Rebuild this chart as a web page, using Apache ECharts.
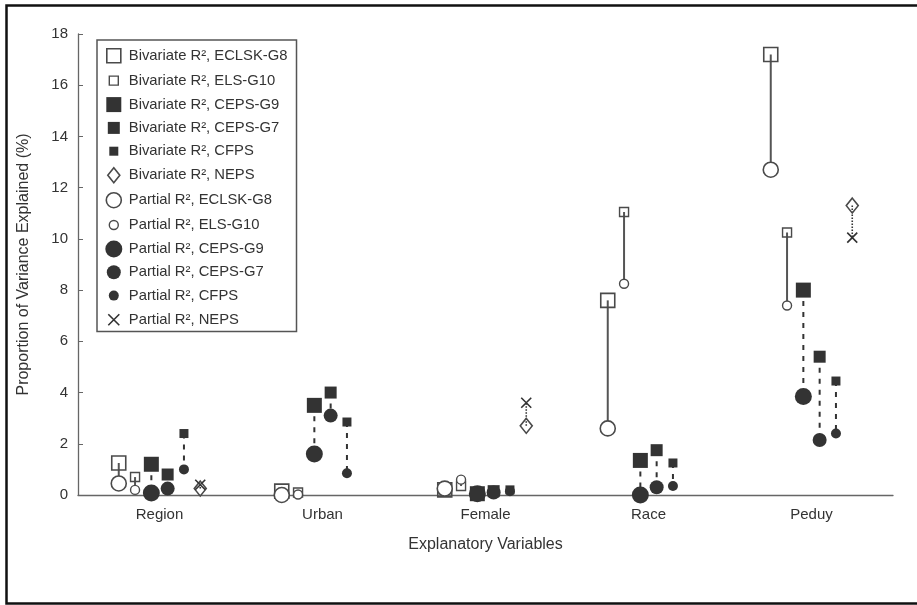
<!DOCTYPE html>
<html><head><meta charset="utf-8">
<script src="https://cdn.jsdelivr.net/npm/echarts@6.0.0/dist/echarts.min.js"></script>
<style>html,body{margin:0;padding:0;background:#fff}#c{width:917px;height:605px}</style>
</head><body><div id="c"></div>
<script>
// ---- data ----
const categories = ['Region', 'Urban', 'Female', 'Race', 'Peduy'];
const datasets = ['ECLSK-G8', 'ELS-G10', 'CEPS-G9', 'CEPS-G7', 'CFPS', 'NEPS'];
const yTicks = [0, 2, 4, 6, 8, 10, 12, 14, 16, 18];
// Bivariate R² (%) per category
const bivECLSK = [1.25, 0.15, 0.2, 7.6, 17.2];
const bivELS   = [0.7, 0.1, 0.35, 11.05, 10.25];
const bivCEPS9 = [1.2, 3.5, 0.05, 1.35, 8.0];
const bivCEPS7 = [0.8, 4.0, 0.15, 1.75, 5.4];
const bivCFPS  = [2.4, 2.85, 0.2, 1.25, 4.45];
const bivNEPS  = [0.25, null, 2.7, null, 11.3];
// Partial R² (%) per category
const parECLSK = [0.45, 0.0, 0.25, 2.6, 12.7];
const parELS   = [0.2, 0.02, 0.6, 8.25, 7.4];
const parCEPS9 = [0.08, 1.6, 0.05, 0.0, 3.85];
const parCEPS7 = [0.25, 3.1, 0.1, 0.3, 2.15];
const parCFPS  = [1.0, 0.85, 0.15, 0.35, 2.4];
const parNEPS  = [0.4, null, 3.6, null, 10.05];

const bivAll = [bivECLSK, bivELS, bivCEPS9, bivCEPS7, bivCFPS, bivNEPS];
const parAll = [parECLSK, parELS, parCEPS9, parCEPS7, parCFPS, parNEPS];

// ---- styles ----
const FONT = "'Liberation Sans', Arial, sans-serif";
const TXT = '#333';
const DARK = '#333';
const OPEN = '#4a4a4a';
const offsets = [-0.25, -0.15, -0.05, 0.05, 0.15, 0.25];
const NONE = 'rgba(0,0,0,0)';

function sq(s) { const a = 10 - s / 2, b = 10 + s / 2; return `path://M0,0M20,20M${a},${a}L${b},${a}L${b},${b}L${a},${b}Z`; }
function circ(s) { const r = s / 2; return `path://M0,0M20,20M${10 - r},10A${r},${r},0,1,1,${10 + r},10A${r},${r},0,1,1,${10 - r},10Z`; }
function dia(w, h) { return `path://M0,0M20,20M10,${10 - h / 2}L${10 + w / 2},10L10,${10 + h / 2}L${10 - w / 2},10Z`; }
function xs(s) { const a = 10 - s / 2, b = 10 + s / 2; return `path://M0,0M20,20M${a},${a}L${b},${b}M${b},${a}L${a},${b}`; }
const XMARK = 'path://M0,0L10,10M10,0L0,10';

const bivStyle = [
  { symbol: 'rect', size: 14, icon: sq(14), item: { color: NONE, borderColor: OPEN, borderWidth: 1.6 } },
  { symbol: 'rect', size: 9, icon: sq(9), item: { color: NONE, borderColor: OPEN, borderWidth: 1.4 } },
  { symbol: 'rect', size: 15, icon: sq(15), item: { color: DARK, borderColor: DARK, borderWidth: 0 } },
  { symbol: 'rect', size: 12, icon: sq(12), item: { color: DARK, borderColor: DARK, borderWidth: 0 } },
  { symbol: 'rect', size: 9, icon: sq(9), item: { color: DARK, borderColor: DARK, borderWidth: 0 } },
  { symbol: 'diamond', size: [12, 15], icon: dia(12, 15), item: { color: NONE, borderColor: OPEN, borderWidth: 1.6 } }
];
const parStyle = [
  { symbol: 'circle', size: 15, icon: circ(15), item: { color: '#fff', borderColor: OPEN, borderWidth: 1.6 } },
  { symbol: 'circle', size: 9, icon: circ(9), item: { color: '#fff', borderColor: OPEN, borderWidth: 1.4 } },
  { symbol: 'circle', size: 17, icon: circ(17), item: { color: DARK, borderColor: DARK, borderWidth: 0 } },
  { symbol: 'circle', size: 14, icon: circ(14), item: { color: DARK, borderColor: DARK, borderWidth: 0 } },
  { symbol: 'circle', size: 10, icon: circ(10), item: { color: DARK, borderColor: DARK, borderWidth: 0 } },
  { symbol: XMARK, size: 10, icon: xs(11), item: { color: NONE, borderColor: DARK, borderWidth: 1.6 } }
];
const connStyle = [
  { stroke: '#555', lineWidth: 2, lineDash: null },
  { stroke: '#555', lineWidth: 2, lineDash: null },
  { stroke: DARK, lineWidth: 2, lineDash: [5, 6] },
  { stroke: DARK, lineWidth: 2, lineDash: [5, 6] },
  { stroke: DARK, lineWidth: 2, lineDash: [5, 6] },
  { stroke: DARK, lineWidth: 1.6, lineDash: [1.5, 1.5] }
];

const series = [];
const legendData = [];
// connectors
datasets.forEach((d, k) => {
  const data = [];
  categories.forEach((c, i) => {
    if (bivAll[k][i] != null && parAll[k][i] != null) data.push([i + offsets[k], bivAll[k][i], parAll[k][i]]);
  });
  const st = connStyle[k];
  series.push({
    type: 'custom', name: 'conn-' + d, xAxisIndex: 1, z: 1, silent: true,
    encode: { x: 0, y: [1, 2] }, data,
    renderItem(params, api) {
      const s = api.coord([api.value(0), api.value(1)]);
      const e = api.coord([api.value(0), api.value(2)]);
      return { type: 'line', shape: { x1: s[0], y1: s[1], x2: e[0], y2: e[1] },
        style: { stroke: st.stroke, lineWidth: st.lineWidth, lineDash: st.lineDash } };
    }
  });
});
function addScatter(prefix, all, styles) {
  datasets.forEach((d, k) => {
    const name = prefix + ' R², ' + d;
    const data = [];
    categories.forEach((c, i) => { if (all[k][i] != null) data.push([i + offsets[k], all[k][i]]); });
    const st = styles[k];
    series.push({ type: 'scatter', name, xAxisIndex: 1, z: 3, data,
      symbol: st.symbol, symbolSize: st.size, itemStyle: Object.assign({ opacity: 1 }, st.item) });
    legendData.push({ name, icon: st.icon, itemStyle: st.item });
  });
}
addScatter('Bivariate', bivAll, bivStyle);
addScatter('Partial', parAll, parStyle);

const chart = echarts.init(document.getElementById('c'), null, { renderer: 'canvas' });
chart.setOption({
  animation: false,
  backgroundColor: '#fff',
  textStyle: { fontFamily: FONT, color: TXT },
  graphic: [{ type: 'rect', left: 4, top: 3, shape: { width: 930, height: 598 },
    style: { fill: 'none', stroke: '#111', lineWidth: 2.5 }, silent: true, z: -1 }],
  grid: { left: 78, top: 34, right: 24, bottom: 110, containLabel: false, outerBoundsMode: 'none' },
  legend: {
    orient: 'vertical', left: 97, top: 40, padding: [5, 9, 1, 6],
    itemWidth: 20, itemHeight: 20, itemGap: 3.3, itemTextGap: 12,
    borderColor: '#555', borderWidth: 1.5, backgroundColor: '#fff',
    selectedMode: false, data: legendData,
    textStyle: { fontFamily: FONT, fontSize: 14.8, color: TXT }
  },
  xAxis: [
    { type: 'category', data: categories, boundaryGap: true, position: 'bottom',
      name: 'Explanatory Variables', nameLocation: 'middle', nameGap: 42,
      nameTextStyle: { fontFamily: FONT, fontSize: 16, color: TXT },
      axisLine: { lineStyle: { color: '#666', width: 1.3 } },
      axisTick: { alignWithLabel: true, inside: true, length: 5, lineStyle: { color: '#666' } },
      axisLabel: { fontFamily: FONT, fontSize: 15, color: TXT, margin: 12 },
      splitLine: { show: false } },
    { type: 'value', min: -0.5, max: 4.5, show: false, gridIndex: 0 }
  ],
  yAxis: {
    type: 'value', min: yTicks[0], max: yTicks[yTicks.length - 1], interval: 2,
    name: 'Proportion of Variance Explained (%)', nameLocation: 'middle', nameGap: 46,
    nameTextStyle: { fontFamily: FONT, fontSize: 16, color: TXT },
    axisLine: { show: true, onZero: false, lineStyle: { color: '#666', width: 1.3 } },
    axisTick: { show: true, inside: true, length: 5, lineStyle: { color: '#666' } },
    axisLabel: { fontFamily: FONT, fontSize: 15, color: TXT, margin: 10 },
    splitLine: { show: false }
  },
  series
});
</script></body></html>
